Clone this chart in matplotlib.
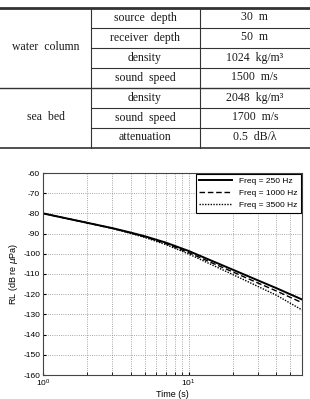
import matplotlib.pyplot as plt
from matplotlib.lines import Line2D

plt.rcParams['axes.unicode_minus'] = False

# Table contents
groups = ['water  column', 'sea  bed']
params = ['source  depth', 'receiver  depth', 'density', 'sound  speed',
          'density', 'sound  speed', 'attenuation']
values = ['30  m', '50  m', '1024  kg/m³', '1500  m/s',
          '2048  kg/m³', '1700  m/s', '0.5  dB/λ']

# Curve data
time_s = [1, 2, 3, 4, 5, 7, 10, 15, 20, 30, 40, 60]
rl_250 = [-80, -84.6, -87.3, -89.5, -91.3, -94.5, -98.6, -104.0, -107.8, -113.2, -117.0, -122.6]
rl_1000 = [-80, -84.6, -87.4, -89.7, -91.6, -95.0, -99.4, -105.0, -108.9, -114.5, -118.4, -124.2]
rl_3500 = [-80, -84.7, -87.5, -89.9, -91.9, -95.5, -100.1, -106.0, -110.2, -116.2, -120.5, -127.8]
labels = ['Freq = 250 Hz', 'Freq = 1000 Hz', 'Freq = 3500 Hz']

W, H = 310, 399
fig = plt.figure(figsize=(W / 100, H / 100), dpi=100)

def fx(px):
    return px / W

def fy(py):
    return 1 - py / H

serif = 'Liberation Serif'

# --- table ---
row_top = 7.5
row_h = 20
n_rows = len(params)
col_x = [0, 90.5, 199.5, 310]

def hline(y, x0, x1, lw):
    fig.add_artist(Line2D([fx(x0), fx(x1)], [fy(y), fy(y)], color='#333333', lw=lw))

hline(row_top, 0, 310, 2.0)
hline(row_top + row_h * n_rows, 0, 310, 1.2)
hline(row_top + row_h * 4, 0, 310, 1.0)
for i in range(1, n_rows):
    if i != 4:
        hline(row_top + row_h * i, col_x[1], 310, 0.8)
for x in col_x[1:3]:
    fig.add_artist(Line2D([fx(x), fx(x)], [fy(row_top), fy(row_top + row_h * n_rows)],
                          color='#333333', lw=0.8))

for i, (p, v) in enumerate(zip(params, values)):
    yc = fy(row_top + row_h * (i + 0.5))
    fig.text(fx((col_x[1] + col_x[2]) / 2), yc, p, ha='center', va='center',
             family=serif, fontsize=8.5, color='#1a1a1a')
    fig.text(fx((col_x[2] + col_x[3]) / 2), yc, v, ha='center', va='center',
             family=serif, fontsize=8.5, color='#1a1a1a')
fig.text(fx(46), fy(row_top + row_h * 2), groups[0], ha='center', va='center',
         family=serif, fontsize=8.5, color='#1a1a1a')
fig.text(fx(46), fy(row_top + row_h * 5.5), groups[1], ha='center', va='center',
         family=serif, fontsize=8.5, color='#1a1a1a')

# --- plot ---
ax = fig.add_axes([fx(43), fy(375), fx(302) - fx(43), fy(173) - fy(375)])
ax.semilogx(time_s, rl_250, color='black', lw=1.4, ls='-', label=labels[0])
ax.semilogx(time_s, rl_1000, color='black', lw=1.0, ls=(0, (4, 2)), label=labels[1])
ax.semilogx(time_s, rl_3500, color='black', lw=1.0, ls=(0, (1, 1)), label=labels[2])
ax.set_xlim(1, 60)
ax.set_ylim(-160, -60)
ax.set_yticks(range(-160, -59, 10))
ax.grid(True, which='major', ls=':', color='#888888', lw=0.6)
ax.grid(True, which='minor', axis='x', ls=':', color='#888888', lw=0.6)
ax.tick_params(labelsize=6, direction='in', length=2, which='both', pad=2)
for lab in ax.get_xticklabels() + ax.get_yticklabels():
    lab.set_family('Liberation Sans')
ax.set_xlabel('Time (s)', fontsize=6.5, family='Liberation Sans', labelpad=1)
ax.set_ylabel(r'RL (dB re $\mu$Pa)', fontsize=6.5, family='Liberation Sans', labelpad=2)
for s in ax.spines.values():
    s.set_color('#444444')
    s.set_linewidth(0.8)

leg = ax.legend(loc='upper right', borderaxespad=0.15, fancybox=False,
                handlelength=4, framealpha=1, edgecolor='black',
                prop={'family': 'Liberation Sans', 'size': 6})
leg.get_frame().set_linewidth(0.8)

fig.savefig('out.png', dpi=100)
